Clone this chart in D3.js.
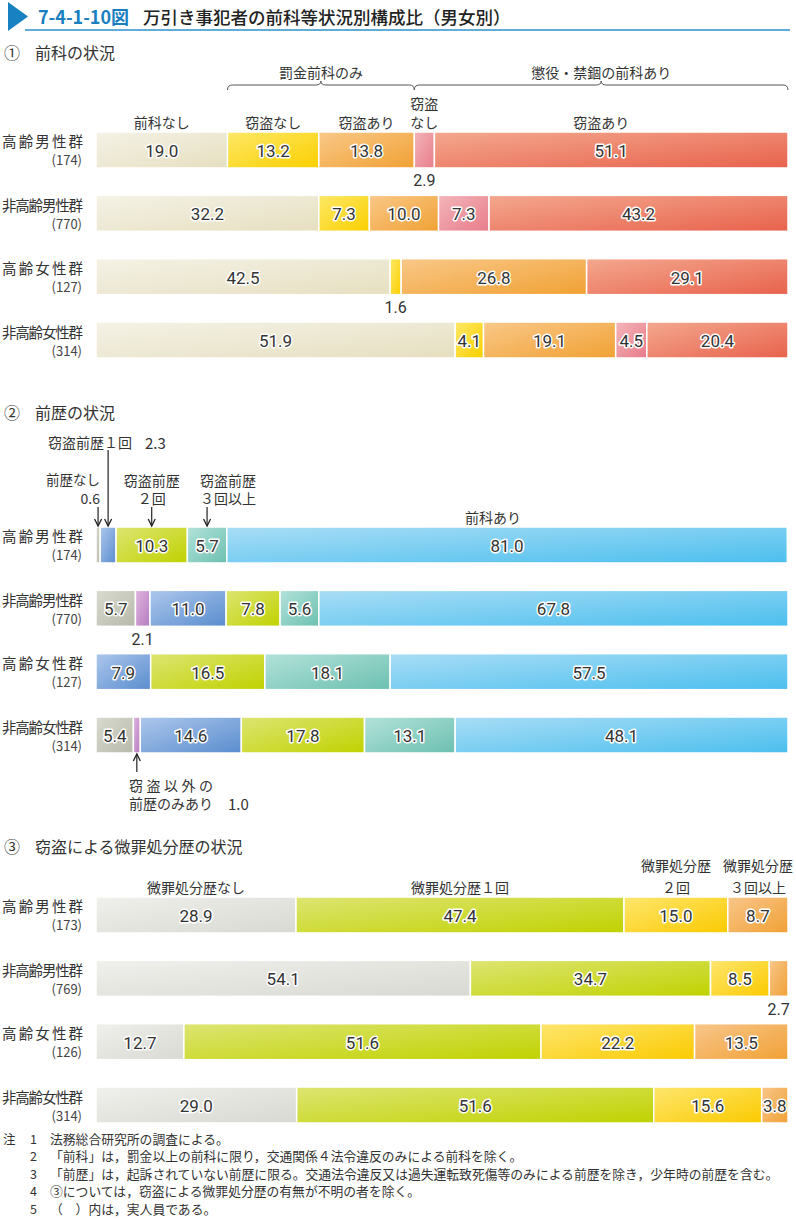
<!DOCTYPE html>
<html><head><meta charset="utf-8">
<script src="https://cdn.jsdelivr.net/npm/d3@7"></script>
<style>
body{margin:0;background:#fff;}
svg text{font-family:"Noto Sans CJK JP","Noto Sans",sans-serif;fill:#333;}
svg text.num{font-family:"Liberation Sans Narrow","Roboto","Noto Sans",sans-serif;}
</style></head><body><svg id="c" width="796" height="1219"></svg>
<script>
// ---------- data ----------
const groups = ["高齢男性群","非高齢男性群","高齢女性群","非高齢女性群"];
const counts1 = ["(174)","(770)","(127)","(314)"];
const counts2 = ["(174)","(770)","(127)","(314)"];
const counts3 = ["(173)","(769)","(126)","(314)"];

const cats1 = ["前科なし","罰金・窃盗なし","罰金・窃盗あり","懲役禁錮・窃盗なし","懲役禁錮・窃盗あり"];
const vals1 = [
  [19.0,13.2,13.8,2.9,51.1],
  [32.2,7.3,10.0,7.3,43.2],
  [42.5,1.6,26.8,0,29.1],
  [51.9,4.1,19.1,4.5,20.4]
];
const cats2 = ["前歴なし","窃盗以外の前歴のみあり","窃盗前歴１回","窃盗前歴２回","窃盗前歴３回以上","前科あり"];
const vals2 = [
  [0.6,0,2.3,10.3,5.7,81.0],
  [5.7,2.1,11.0,7.8,5.6,67.8],
  [0,0,7.9,16.5,18.1,57.5],
  [5.4,1.0,14.6,17.8,13.1,48.1]
];
const cats3 = ["微罪処分歴なし","微罪処分歴１回","微罪処分歴２回","微罪処分歴３回以上"];
const vals3 = [
  [28.9,47.4,15.0,8.7],
  [54.1,34.7,8.5,2.7],
  [12.7,51.6,22.2,13.5],
  [29.0,51.6,15.6,3.8]
];
const notes = [
  ["注","1","法務総合研究所の調査による。"],
  ["","2","「前科」は，罰金以上の前科に限り，交通関係４法令違反のみによる前科を除く。"],
  ["","3","「前歴」は，起訴されていない前歴に限る。交通法令違反又は過失運転致死傷等のみによる前歴を除き，少年時の前歴を含む。"],
  ["","4","③については，窃盗による微罪処分歴の有無が不明の者を除く。"],
  ["","5","（　）内は，実人員である。"]
];

// ---------- styles ----------
const colors1 = [["#f5f2e6","#e6dfc0"],["#fde866","#fbcf00"],["#f9c888","#f1a134"],["#f3b5b9","#e87c8a"],["#f4a88f","#e8624c"]];
const colors2 = [["#dadbd0","#b6b9aa"],["#dfb5df","#b67cbf"],["#adc7ec","#5a8dce"],["#dde572","#c0d200"],["#b3e2da","#6cc0b0"],["#a9ddf6","#4bbfee"]];
const colors3 = [["#f0f0ec","#d8d9d2"],["#dde572","#c0d200"],["#fee66e","#fbca00"],["#f8c68a","#f1a136"]];

const svg = d3.select("#c");
const defs = svg.append("defs");
const x = d3.scaleLinear().domain([0,100]).range([96,788]);

function grad(id,c){
  const g = defs.append("linearGradient").attr("id",id)
    .attr("x1","0").attr("y1","0").attr("x2","1").attr("y2","1");
  g.append("stop").attr("offset","0").attr("stop-color",c[0]);
  g.append("stop").attr("offset","1").attr("stop-color",c[1]);
}

// ---------- title ----------
svg.append("path").attr("d","M8,2 L28,16.5 L8,31 Z").attr("fill","#1781c2");
svg.append("line").attr("x1",25).attr("x2",790).attr("y1",30).attr("y2",30)
  .attr("stroke","#2e90cc").attr("stroke-width",1.5);
svg.append("text").attr("x",38).attr("y",16).attr("dominant-baseline","central")
  .style("fill","#1a7fc0").style("font-weight","700").style("font-size","18px").text("7-4-1-10図");
svg.append("text").attr("x",143).attr("y",16).attr("dominant-baseline","central")
  .style("fill","#222").style("font-weight","500").style("font-size","17.5px")
  .text("万引き事犯者の前科等状況別構成比（男女別）");

function header(mark,txt,y){
  svg.append("text").attr("x",4).attr("y",y).attr("dominant-baseline","central").style("font-size","16px").text(mark);
  svg.append("text").attr("x",35).attr("y",y).attr("dominant-baseline","central").style("font-size","16px").text(txt);
}
header("①","前科の状況",52);
header("②","前歴の状況",412);
header("③","窃盗による微罪処分歴の状況",846);

// ---------- section drawing ----------
function section(cfg){
  const y = d3.scaleBand().domain(groups).range([cfg.top,cfg.top+226]).paddingInner(0.432).paddingOuter(0);
  cfg.colors.forEach((c,i)=>grad(cfg.id+i,c));
  const info = [];
  groups.forEach((g,r)=>{
    const y0 = y(g), h = y.bandwidth(), cy = y0+h/2;
    svg.append("text").attr("x",2).attr("y",cy-9).attr("dominant-baseline","central")
      .attr("textLength",81).attr("lengthAdjust","spacing").style("font-size","14.5px").text(g);
    svg.append("text").attr("x",82).attr("y",cy+10).attr("dominant-baseline","central")
      .attr("text-anchor","end").style("font-size","13px").style("fill","#444").text(cfg.counts[r]);
    let cum = 0;
    const segs = [];
    cfg.vals[r].forEach((v,i)=>{
      const x0 = x(cum), w = x(cum+v)-x(cum);
      segs.push({x0, w, cx:x0+w/2, v});
      cum += v;
      if (v<=0) return;
      svg.append("rect").attr("x",x0).attr("y",y0).attr("width",w).attr("height",h)
        .attr("fill",`url(#${cfg.id+i})`).attr("stroke","#fff").attr("stroke-width",1.5);
    });
    segs.forEach((s,i)=>{
      if (s.v<=0) return;
      const skip = (cfg.skip||[]).some(k=>k[0]===r&&k[1]===i);
      if (skip) return;
      if (s.v>=3.5){
        svg.append("text").attr("class","num").attr("x",s.cx).attr("y",cy+1)
          .attr("text-anchor","middle").attr("dominant-baseline","central")
          .style("font-size","17px").style("fill","#333")
          .style("stroke","#fff").style("stroke-width","3px").style("paint-order","stroke").style("stroke-linejoin","round")
          .text(s.v.toFixed(1));
      } else {
        svg.append("text").attr("class","num").attr("x",s.cx).attr("y",y0+h+13)
          .attr("text-anchor","middle").attr("dominant-baseline","central")
          .style("font-size","16px").text(s.v.toFixed(1));
      }
    });
    info.push({y0,h,segs});
  });
  return info;
}

function ctext(t,xx,yy,opt={}){
  const e = svg.append("text").attr("x",xx).attr("y",yy).attr("dominant-baseline","central")
    .attr("text-anchor",opt.anchor||"middle").style("font-size",(opt.size||14)+"px").text(t);
  if (opt.len) e.attr("textLength",opt.len).attr("lengthAdjust","spacing");
  if (opt.cls) e.attr("class",opt.cls);
  return e;
}
function arrowDown(xx,y1,y2){
  svg.append("line").attr("x1",xx).attr("x2",xx).attr("y1",y1).attr("y2",y2).attr("stroke","#222").attr("stroke-width",1.2);
  svg.append("path").attr("d",`M${xx-3.5},${y2-7} L${xx},${y2} L${xx+3.5},${y2-7}`).attr("fill","none").attr("stroke","#222").attr("stroke-width",1.3);
}
function arrowUp(xx,y1,y2){
  svg.append("line").attr("x1",xx).attr("x2",xx).attr("y1",y1).attr("y2",y2).attr("stroke","#222").attr("stroke-width",1.2);
  svg.append("path").attr("d",`M${xx-3.5},${y1+7} L${xx},${y1} L${xx+3.5},${y1+7}`).attr("fill","none").attr("stroke","#222").attr("stroke-width",1.3);
}
function brace(x0,x1,yy){
  const m=(x0+x1)/2;
  svg.append("path").attr("d",`M${x0},${yy+5} Q${x0},${yy} ${x0+5},${yy} L${m-5},${yy} Q${m},${yy} ${m},${yy-4} Q${m},${yy} ${m+5},${yy} L${x1-5},${yy} Q${x1},${yy} ${x1},${yy+5}`)
    .attr("fill","none").attr("stroke","#555").attr("stroke-width",1);
}

// Section 1
const s1 = section({id:"g1",top:132,vals:vals1,colors:colors1,counts:counts1});
{
  const sg = s1[0].segs;
  brace(sg[1].x0, sg[2].x0+sg[2].w, 85);
  brace(sg[3].x0, sg[4].x0+sg[4].w, 85);
  ctext("罰金前科のみ",(sg[1].x0+sg[2].x0+sg[2].w)/2,72);
  ctext("懲役・禁錮の前科あり",(sg[3].x0+sg[4].x0+sg[4].w)/2,72);
  ctext("前科なし",sg[0].cx,122);
  ctext("窃盗なし",sg[1].cx,122);
  ctext("窃盗あり",sg[2].cx,122);
  ctext("窃盗",sg[3].cx,103);
  ctext("なし",sg[3].cx,122);
  ctext("窃盗あり",(sg[3].x0+sg[4].x0+sg[4].w)/2,122);
}

// Section 2
const s2 = section({id:"g2",top:527,vals:vals2,colors:colors2,counts:counts2,skip:[[0,0],[0,2],[3,1]]});
{
  const sg = s2[0].segs, top = s2[0].y0;
  ctext("窃盗前歴１回",48,442,{anchor:"start"});
  ctext("2.3",145,442,{anchor:"start",size:15});
  arrowDown(sg[2].cx,450,top-1);
  ctext("前歴なし",100,479,{anchor:"end",size:13.5});
  ctext("0.6",100,498,{anchor:"end",size:14});
  arrowDown(sg[0].cx,507,top-1);
  ctext("窃盗前歴",sg[3].cx,480);
  ctext("２回",sg[3].cx,498);
  arrowDown(sg[3].cx,507,top-1);
  ctext("窃盗前歴",228,480);
  ctext("３回以上",228,498);
  arrowDown(sg[4].cx,507,top-1);
  ctext("前科あり",sg[5].cx-14,517);
  const b4 = s2[3], sgd = b4.segs[1];
  arrowUp(sgd.cx,b4.y0+b4.h+1,772);
  ctext("窃盗以外の",129,785,{anchor:"start",len:84});
  ctext("前歴のみあり",129,803,{anchor:"start",len:84});
  ctext("1.0",228,803,{anchor:"start",size:15});
}

// Section 3
const s3 = section({id:"g3",top:897,vals:vals3,colors:colors3,counts:counts3});
{
  const sg = s3[0].segs;
  ctext("微罪処分歴なし",sg[0].cx,887);
  ctext("微罪処分歴１回",sg[1].cx,887);
  ctext("微罪処分歴",sg[2].cx,865);
  ctext("２回",sg[2].cx,887);
  ctext("微罪処分歴",sg[3].cx,865);
  ctext("３回以上",sg[3].cx,887);
}

// Notes
notes.forEach((n,i)=>{
  const yy = 1138+i*17.5;
  if (n[0]) ctext(n[0],3,yy,{anchor:"start",size:12.5});
  ctext(n[1],30,yy,{anchor:"start",size:12.5});
  ctext(n[2],50,yy,{anchor:"start",size:12.8});
});
</script></body></html>
